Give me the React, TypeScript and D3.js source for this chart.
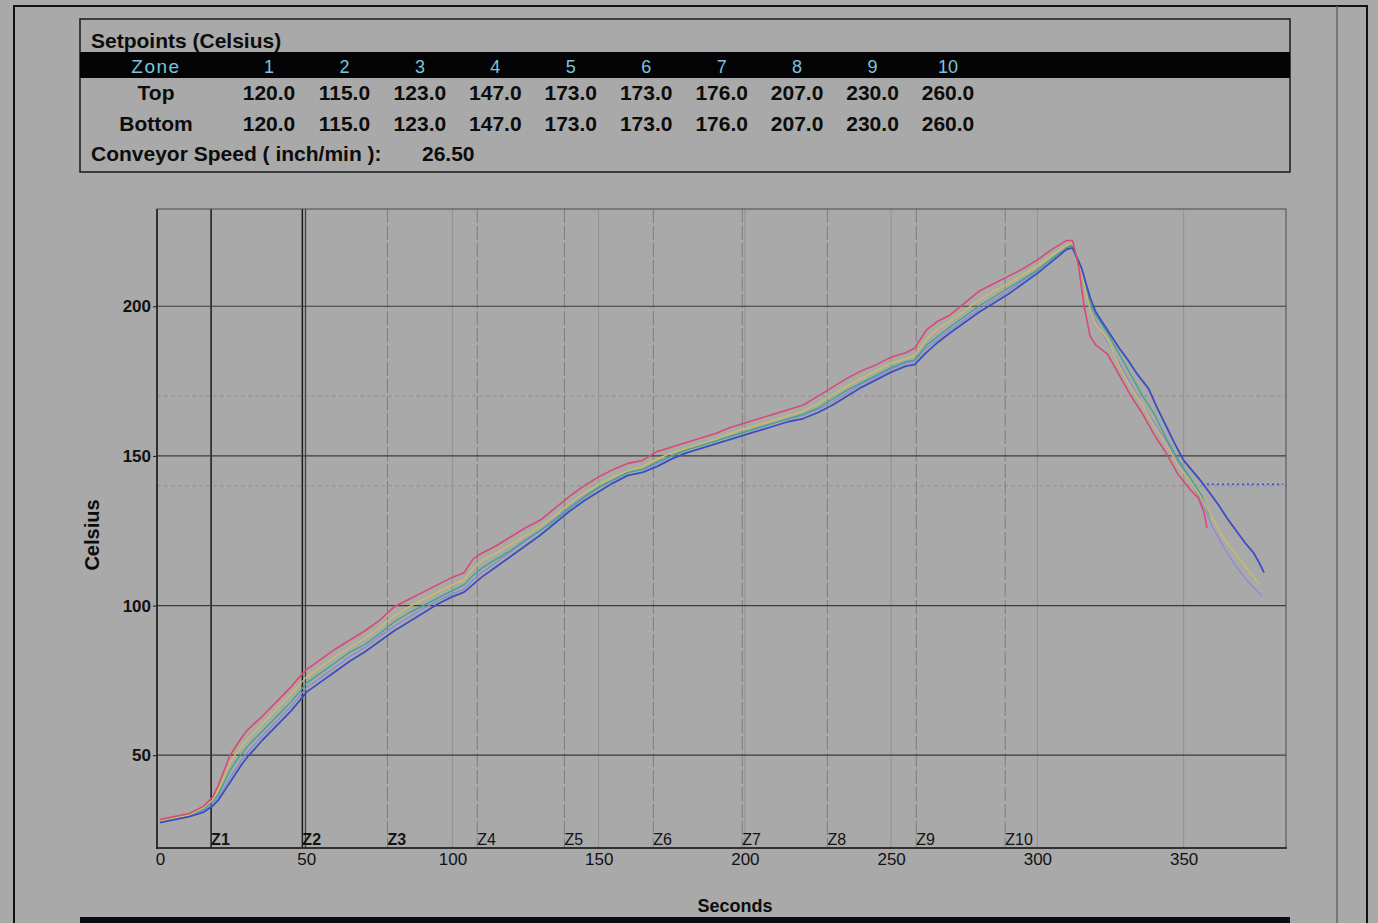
import * as d3 from 'd3'
import { useEffect, useRef } from 'react'

// setpoint table
const zones = ['1', '2', '3', '4', '5', '6', '7', '8', '9', '10']
const topSetpoints = [120, 115, 123, 147, 173, 173, 176, 207, 230, 260]
const bottomSetpoints = [120, 115, 123, 147, 173, 173, 176, 207, 230, 260]
const conveyorSpeed = 26.5

// chart axes
const xTicks = [0, 50, 100, 150, 200, 250, 300, 350]
const yTicks = [50, 100, 150, 200]
const zoneLabels = ['Z1', 'Z2', 'Z3', 'Z4', 'Z5', 'Z6', 'Z7', 'Z8', 'Z9', 'Z10']
const zoneStarts = [17.5, 48.7, 77.8, 108.5, 138.3, 168.7, 199.1, 228.2, 258.6, 289]
const faintLevels = [140, 170]

// heating phase, shared time base (seconds)
const heatTimes = [
  0, 5, 10, 15, 18, 20, 22, 24, 26, 28, 30, 35, 40, 45, 48, 50, 55, 60, 65, 70, 75, 80, 85, 90,
  95, 100, 104, 107, 110, 115, 120, 125, 130, 135, 140, 145, 150, 155, 160, 165, 170, 175, 180,
  185, 190, 195, 200, 205, 210, 215, 220, 225, 230, 235, 240, 245, 250, 255, 258, 262, 266, 270,
  275, 280, 285, 290, 295, 300, 305, 310, 312,
]
const redHeat = [
  28.5, 29.5, 30.5, 33, 36, 40, 45, 50, 53, 56, 58.5, 63, 68, 73, 76.5, 78.5, 82, 85.5, 88.5, 91.5,
  95, 99.5, 102, 104.5, 107, 109.5, 111, 115.5, 117.5, 120, 123, 126, 128.5, 132.5, 136.5, 140,
  143, 145.5, 147.5, 148.5, 151.5, 153, 154.5, 156, 157.5, 159.5, 161, 162.5, 164, 165.5, 167,
  170, 173, 176, 178.5, 180.5, 183, 184.5, 186, 192, 195, 197, 201, 205, 207.5, 210, 212.5,
  215.5, 219, 222, 222,
]
const yellowHeat = [
  28, 29, 30, 32.5, 35, 38.5, 43, 47.5, 50.5, 53, 55.5, 60.5, 65.5, 70.5, 74, 76, 79.5, 83, 86, 89,
  92.5, 96.5, 99.5, 102, 104.5, 107, 108.5, 112.5, 115, 117.5, 120.5, 123.5, 126.5, 130, 134,
  137.5, 140.5, 143, 145, 146.5, 149, 151, 152.5, 154, 155.5, 157.5, 159, 160.5, 162, 163.5, 165,
  167.5, 170.5, 173.5, 176, 178.5, 181, 182.5, 183.5, 189, 192.5, 195, 198.5, 202, 205, 207.5,
  210.5, 213.5, 217, 220.5, 221,
]
const greenHeat = [
  28, 29, 30, 32, 34.5, 37, 41, 45, 48, 50.5, 53, 58, 63, 68, 71.5, 74, 77.5, 81, 84.5, 87, 90.5,
  94.5, 97.5, 100, 102.5, 105, 107, 110, 112.5, 115.5, 118.5, 122, 125, 128.5, 132.5, 136, 139.5,
  142, 144.5, 145.5, 148, 150, 152, 153.5, 155, 156.5, 158, 159.5, 161, 162.5, 164, 166, 169,
  172, 174.5, 177, 179.5, 181.5, 182, 187, 190, 193, 196.5, 200, 203, 206, 209, 212, 216, 219.5,
  220.5,
]
const purpleHeat = [
  28, 29, 30, 31.5, 33.5, 36, 39, 42.5, 45.5, 48.5, 51, 56.5, 61.5, 66.5, 70, 72.5, 76, 79.5, 83,
  86, 89.5, 93, 96, 99, 101.5, 104, 105.5, 108.5, 111, 114.5, 118, 121.5, 125, 129, 133, 136.5,
  139.5, 142, 144.5, 145.5, 147.5, 150, 152, 153.5, 155, 156.5, 158, 159.5, 161, 162.5, 163.5,
  165.5, 168, 171, 174, 176.5, 179, 181, 181.5, 186, 189, 192, 195.5, 199, 202, 205, 208.5, 212,
  216, 219.5, 220,
]
const blueHeat = [
  27.5, 28.5, 29.5, 31, 33, 35, 38, 41, 44, 47, 49.5, 55, 60, 65, 68.5, 71, 74.5, 78, 81.5, 84.5,
  88, 91.5, 94.5, 97.5, 100.5, 103, 104.5, 107, 109.5, 113, 116.5, 120, 123.5, 127.5, 131.5, 135,
  138, 141, 143.5, 144.5, 146.5, 149, 151, 152.5, 154, 155.5, 157, 158.5, 160, 161.5, 162.5,
  164.5, 167, 170, 173, 175.5, 178, 180, 180.5, 184.5, 188, 191, 194.5, 198, 201, 204, 207.5, 211,
  215, 219, 219.5,
]

// cooling phase, each trace on its own time base
const redCoolTimes = [314, 316, 318, 320, 324, 328, 332, 336, 340, 344, 348, 352, 355, 357, 358]
const redCool = [214, 200, 190, 187, 184, 177, 170, 164, 157, 151, 144, 139, 136, 131, 126]
const yellowCoolTimes = [315, 318, 320, 324, 328, 332, 336, 340, 344, 348, 352, 356, 360, 364, 368, 372, 376]
const yellowCool = [212, 199, 194, 189, 180, 173, 167, 160, 154, 147, 142, 136, 129, 122, 117, 112, 107]
const greenCoolTimes = [315, 318, 320, 324, 328, 332, 336, 340, 344, 348, 352, 356, 359]
const greenCool = [213, 201, 197, 191, 184, 177, 170, 164, 156, 149, 143, 137, 130]
const purpleCoolTimes = [315, 318, 320, 324, 328, 332, 336, 340, 344, 348, 352, 356, 360, 364, 368, 372, 375, 377]
const purpleCool = [212, 200, 195, 188, 181, 174, 167, 161, 155, 148, 142, 135, 126, 119, 113, 108, 105, 103]
const blueCoolTimes = [315, 318, 320, 324, 328, 331, 334, 338, 341, 344, 347, 350, 353, 356, 359, 362, 365, 368, 371, 374, 376, 377.5]
const blueCool = [213, 203, 198, 192, 186, 182, 177.5, 172.5, 166, 160, 154, 148.5, 145, 141.5, 137.5, 133.5, 129, 125, 121, 117.5, 114, 111]

const dottedTimes = [358, 384]
const dottedValue = 140.5

const W = 1378
const H = 923
const FONT = '"Liberation Sans", Arial, sans-serif'

const App = () => {
  const ref = useRef(null)

  useEffect(() => {
    const svg = d3.select(ref.current)
    svg.selectAll('*').remove()

    svg.append('rect').attr('width', W).attr('height', H).attr('fill', '#a9a9a9')

    // page frame
    svg
      .append('path')
      .attr('d', 'M14,923 V6 H1367 V923')
      .attr('fill', 'none')
      .attr('stroke', '#111')
      .attr('stroke-width', 2)
    svg
      .append('line')
      .attr('x1', 1337).attr('x2', 1337).attr('y1', 6).attr('y2', 923)
      .attr('stroke', '#666').attr('stroke-width', 1.5)
    svg.append('rect').attr('x', 80).attr('y', 917).attr('width', 1210).attr('height', 6).attr('fill', '#0b0b10')

    // Setpoints table
    const t = svg.append('g').style('font-family', FONT)
    t.append('rect')
      .attr('x', 80).attr('y', 19).attr('width', 1210).attr('height', 153)
      .attr('fill', 'none').attr('stroke', '#1a1a1a').attr('stroke-width', 1.5)
    t.append('text')
      .attr('x', 91).attr('y', 48)
      .attr('font-size', 21).attr('font-weight', 'bold').attr('fill', '#0c0c0c')
      .text('Setpoints (Celsius)')
    t.append('rect').attr('x', 80).attr('y', 52).attr('width', 1210).attr('height', 26).attr('fill', '#040406')

    const col = d3.scaleLinear().domain([0, 9]).range([269, 948])
    t.append('text')
      .attr('x', 156).attr('y', 73).attr('text-anchor', 'middle')
      .attr('font-size', 19).attr('letter-spacing', 1.5).attr('fill', '#7cc4dc')
      .text('Zone')
    t.selectAll('text.zh')
      .data(zones)
      .join('text')
      .attr('class', 'zh')
      .attr('x', (d, i) => col(i)).attr('y', 73).attr('text-anchor', 'middle')
      .attr('font-size', 18).attr('fill', '#7cc4dc')
      .text((d) => d)

    const rows = [
      { label: 'Top', y: 100, vals: topSetpoints },
      { label: 'Bottom', y: 131, vals: bottomSetpoints },
    ]
    rows.forEach((r) => {
      t.append('text')
        .attr('x', 156).attr('y', r.y).attr('text-anchor', 'middle')
        .attr('font-size', 21).attr('font-weight', 'bold').attr('fill', '#0c0c0c')
        .text(r.label)
      t.selectAll(null)
        .data(r.vals)
        .join('text')
        .attr('x', (d, i) => col(i)).attr('y', r.y).attr('text-anchor', 'middle')
        .attr('font-size', 21).attr('font-weight', 'bold').attr('fill', '#0c0c0c')
        .text((d) => d.toFixed(1))
    })
    t.append('text')
      .attr('x', 91).attr('y', 161)
      .attr('font-size', 21).attr('font-weight', 'bold').attr('fill', '#0c0c0c')
      .text('Conveyor Speed ( inch/min ):')
    t.append('text')
      .attr('x', 422).attr('y', 161)
      .attr('font-size', 21).attr('font-weight', 'bold').attr('fill', '#0c0c0c')
      .text(conveyorSpeed.toFixed(2))

    // Chart
    const x = d3.scaleLinear().domain([-1, 385]).range([157, 1286])
    const y = d3.scaleLinear().domain([19, 232.5]).range([848, 209])
    const g = svg.append('g').style('font-family', FONT)

    // faint gridlines
    g.selectAll('line.fx')
      .data(xTicks.slice(1))
      .join('line')
      .attr('x1', (d) => x(d)).attr('x2', (d) => x(d))
      .attr('y1', y.range()[1]).attr('y2', y.range()[0])
      .attr('stroke', '#929292').attr('stroke-width', 1)
    g.selectAll('line.fy')
      .data(faintLevels)
      .join('line')
      .attr('x1', x.range()[0]).attr('x2', x.range()[1])
      .attr('y1', (d) => y(d)).attr('y2', (d) => y(d))
      .attr('stroke', '#909090').attr('stroke-dasharray', '4,3')

    // zone boundaries
    g.selectAll('line.zone')
      .data(zoneStarts)
      .join('line')
      .attr('x1', (d) => x(d)).attr('x2', (d) => x(d))
      .attr('y1', y.range()[1]).attr('y2', y.range()[0])
      .attr('stroke', (d, i) => (i < 2 ? '#1a1a1a' : '#7e7e7e'))
      .attr('stroke-width', (d, i) => (i < 2 ? 1.5 : 1))
      .attr('stroke-dasharray', (d, i) => (i < 2 ? null : '14,3'))
    g.append('line')
      .attr('x1', x(zoneStarts[1]) + 3).attr('x2', x(zoneStarts[1]) + 3)
      .attr('y1', y.range()[1]).attr('y2', y.range()[0])
      .attr('stroke', '#333').attr('stroke-width', 1)
    g.selectAll('text.zl')
      .data(zoneLabels)
      .join('text')
      .attr('x', (d, i) => x(zoneStarts[i])).attr('y', 845)
      .attr('font-size', 16).attr('font-weight', (d, i) => (i < 3 ? 'bold' : 'normal'))
      .attr('fill', '#141414')
      .text((d) => d)

    // major horizontal gridlines
    g.selectAll('line.gy')
      .data(yTicks)
      .join('line')
      .attr('x1', x.range()[0]).attr('x2', x.range()[1])
      .attr('y1', (d) => y(d)).attr('y2', (d) => y(d))
      .attr('stroke', '#3c3c3c').attr('stroke-width', 1.2)

    // plot frame
    g.append('rect')
      .attr('x', 157).attr('y', 209).attr('width', 1286 - 157).attr('height', 848 - 209)
      .attr('fill', 'none').attr('stroke', '#4a4a4a').attr('stroke-width', 1)
    g.append('line').attr('x1', 157).attr('x2', 157).attr('y1', 209).attr('y2', 849)
      .attr('stroke', '#1a1a1a').attr('stroke-width', 1.5)
    g.append('line').attr('x1', 156).attr('x2', 1287).attr('y1', 848).attr('y2', 848)
      .attr('stroke', '#1a1a1a').attr('stroke-width', 1.5)

    // axes
    const yAxis = g
      .append('g')
      .attr('transform', 'translate(157,0)')
      .call(d3.axisLeft(y).tickValues(yTicks).tickSize(4).tickPadding(2))
    yAxis.select('.domain').remove()
    yAxis.selectAll('line').attr('stroke', '#1a1a1a')
    yAxis.selectAll('text')
      .style('font-family', FONT).style('font-size', '17px').style('font-weight', 'bold')
      .attr('fill', '#111')

    const xAxis = g
      .append('g')
      .attr('transform', 'translate(0,848)')
      .call(d3.axisBottom(x).tickValues(xTicks).tickSize(0).tickPadding(5))
    xAxis.select('.domain').remove()
    xAxis.selectAll('text')
      .style('font-family', FONT).style('font-size', '17px')
      .attr('fill', '#111')

    g.append('text')
      .attr('transform', 'translate(99,535) rotate(-90)').attr('text-anchor', 'middle')
      .attr('font-size', 20).attr('font-weight', 'bold').attr('fill', '#0c0c0c')
      .text('Celsius')
    g.append('text')
      .attr('x', 735).attr('y', 912).attr('text-anchor', 'middle')
      .attr('font-size', 18).attr('font-weight', 'bold').attr('fill', '#0c0c0c')
      .text('Seconds')

    // traces
    const traces = [
      { color: '#8a86d6', width: 1.2, heat: purpleHeat, ct: purpleCoolTimes, cv: purpleCool },
      { color: '#3aa58c', width: 1.3, heat: greenHeat, ct: greenCoolTimes, cv: greenCool },
      { color: '#cdbf5a', width: 1.3, heat: yellowHeat, ct: yellowCoolTimes, cv: yellowCool },
      { color: '#3a4ec4', width: 1.8, heat: blueHeat, ct: blueCoolTimes, cv: blueCool },
      { color: '#d84a72', width: 1.6, heat: redHeat, ct: redCoolTimes, cv: redCool },
    ]
    const line = d3
      .line()
      .x((d) => x(d[0]))
      .y((d) => y(d[1]))
    traces.forEach((tr) => {
      const pts = heatTimes
        .map((s, i) => [s, tr.heat[i]])
        .concat(tr.ct.map((s, i) => [s, tr.cv[i]]))
      g.append('path')
        .attr('d', line(pts))
        .attr('fill', 'none')
        .attr('stroke', tr.color)
        .attr('stroke-width', tr.width)
        .attr('stroke-linejoin', 'round')
    })
    g.append('line')
      .attr('x1', x(dottedTimes[0])).attr('x2', x(dottedTimes[1]))
      .attr('y1', y(dottedValue)).attr('y2', y(dottedValue))
      .attr('stroke', '#3a4ec4').attr('stroke-width', 1.5).attr('stroke-dasharray', '2,3')
  }, [])

  return (
    <svg
      ref={ref}
      width={W}
      height={H}
      style={{ position: 'absolute', left: 0, top: 0, display: 'block' }}
    ></svg>
  )
}
export default App
